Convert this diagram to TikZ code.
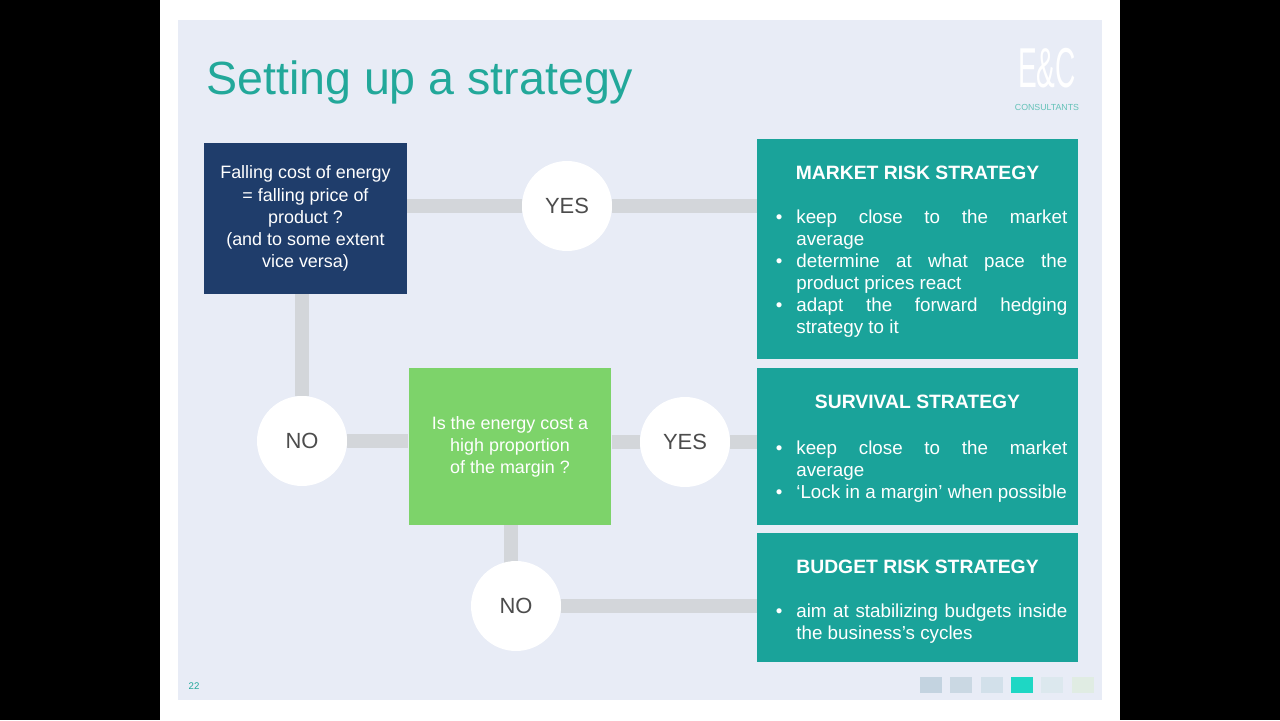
\documentclass[tikz,border=0pt]{standalone}
\usepackage{fontspec}
\setmainfont{Liberation Sans}
\usetikzlibrary{positioning,backgrounds}
\definecolor{panel}{HTML}{E8ECF6}
\definecolor{navy}{HTML}{1F3D6B}
\definecolor{teal}{HTML}{1AA39A}
\definecolor{lime}{HTML}{7DD36A}
\definecolor{wirec}{HTML}{D3D6DA}
\definecolor{titlec}{HTML}{22A89A}
\definecolor{tileA}{HTML}{C3D3E0}
\definecolor{tileB}{HTML}{CAD8E3}
\definecolor{tileC}{HTML}{D2E0EA}
\definecolor{tileD}{HTML}{1ED7C4}
\definecolor{tileE}{HTML}{DCE8EE}
\definecolor{tileF}{HTML}{E0ECE3}
\newenvironment{bulls}{\hyphenpenalty=10000\spaceskip=\fontdimen2\font plus 3\fontdimen3\font\relax
  \begin{list}{\textbullet}{\leftmargin=0.58cm\labelwidth=0.3cm\labelsep=0.28cm\itemsep=0pt\topsep=0pt\parsep=0pt\partopsep=0pt}}{\end{list}}
\tikzset{
  box/.style={draw=none, minimum width=#1, inner sep=0pt},
  ask/.style={box=4.06cm, minimum height=3.02cm, text=white, align=center, font=\fontsize{10.2}{12.6}\selectfont},
  plan/.style={box=6.42cm, fill=teal},
  head/.style={text=white, font=\bfseries\fontsize{11}{13}\selectfont},
  items/.style={text=white, text width=6cm, align=justify, font=\fontsize{10.7}{12.5}\selectfont, inner sep=0pt},
  answer/.style={circle, fill=white, minimum size=1.8cm, inner sep=0pt, text=black!70, font=\fontsize{12.5}{14}\selectfont},
  wire/.style={draw=wirec, line width=0.28cm},
  tile/.style={minimum width=0.44cm, minimum height=0.32cm, inner sep=0pt}
}
\begin{document}
\begin{tikzpicture}[x=0.02cm, y=-0.02cm]
  % Slide
  \begin{scope}[on background layer]
    \fill[black] (0,0) rectangle (1280,720);
    \fill[white] (160,0) rectangle (1120,720);
    \fill[panel] (178,20) rectangle (1102,700);
  \end{scope}
  \node[anchor=west, text=titlec, font=\fontsize{26.5}{30}\selectfont] (title) at (200,82) {Setting up a strategy};
  \node[text=white, font=\fontsize{20}{26}\selectfont, yscale=1.6, xscale=0.8] (logo) at (1047,68) {E\&C};
  \node[text=titlec!70, font=\fontsize{5}{6}\selectfont] (firm) at (1047,107) {CONSULTANTS};
  \node[text=titlec, font=\fontsize{5.5}{6}\selectfont] (page) at (194,686) {22};

  % Boxes
  \node[ask, fill=navy] (energy) at (305.5,218.5) {Falling cost of energy\\= falling price of\\product ?\\(and to some extent\\vice versa)};
  \node[ask, fill=lime, minimum height=3.14cm] (share) at (510,446.5) {Is the energy cost a\\high proportion\\of the margin ?};
  \node[plan, minimum height=4.4cm] (market) at (917.5,249) {};
  \node[plan, minimum height=3.14cm] (survival) at (917.5,446.5) {};
  \node[plan, minimum height=2.58cm] (budget) at (917.5,597.5) {};

  % Answers
  \node[answer] (yesA) at (567,206) {YES};
  \node[answer] (noA) at (302,441) {NO};
  \node[answer] (yesB) at (685,442) {YES};
  \node[answer] (noB) at (516,606) {NO};

  % Wires
  \begin{scope}[on background layer]
    \draw[wire] (energy.east |- yesA) -- (yesA);
    \draw[wire] (yesA) -- (market.west |- yesA);
    \draw[wire] (energy.south -| noA) -- (noA);
    \draw[wire] (noA) -- (share.west |- noA);
    \draw[wire] (share.east |- yesB) -- (yesB);
    \draw[wire] (yesB) -- (survival.west |- yesB);
    \draw[wire] (share.south -| 511,0) -- (511,580);
    \draw[wire] (noB) -- (budget.west |- noB);
  \end{scope}

  % Strategies
  \node[head, below=0.42cm of market.north] (marketHead) {MARKET RISK STRATEGY};
  \node[items, anchor=north west] (marketList) at (767,201) {\begin{bulls}
    \item keep close to the market average
    \item determine at what pace the product prices react
    \item adapt the forward hedging strategy to it
  \end{bulls}};
  \node[head, below=0.42cm of survival.north] (survivalHead) {SURVIVAL STRATEGY};
  \node[items, anchor=north west] (survivalList) at (767,432) {\begin{bulls}
    \item keep close to the market average
    \item `Lock in a margin' when possible
  \end{bulls}};
  \node[head, below=0.42cm of budget.north] (budgetHead) {BUDGET RISK STRATEGY};
  \node[items, anchor=north west] (budgetList) at (767,595) {\begin{bulls}
    \item aim at stabilizing budgets inside the business's cycles
  \end{bulls}};

  % Tiles
  \foreach \x/\c in {931/tileA, 961/tileB, 992/tileC, 1022/tileD, 1052/tileE, 1083/tileF}
    \node[tile, fill=\c] (\c) at (\x,685) {};
\end{tikzpicture}
\end{document}
